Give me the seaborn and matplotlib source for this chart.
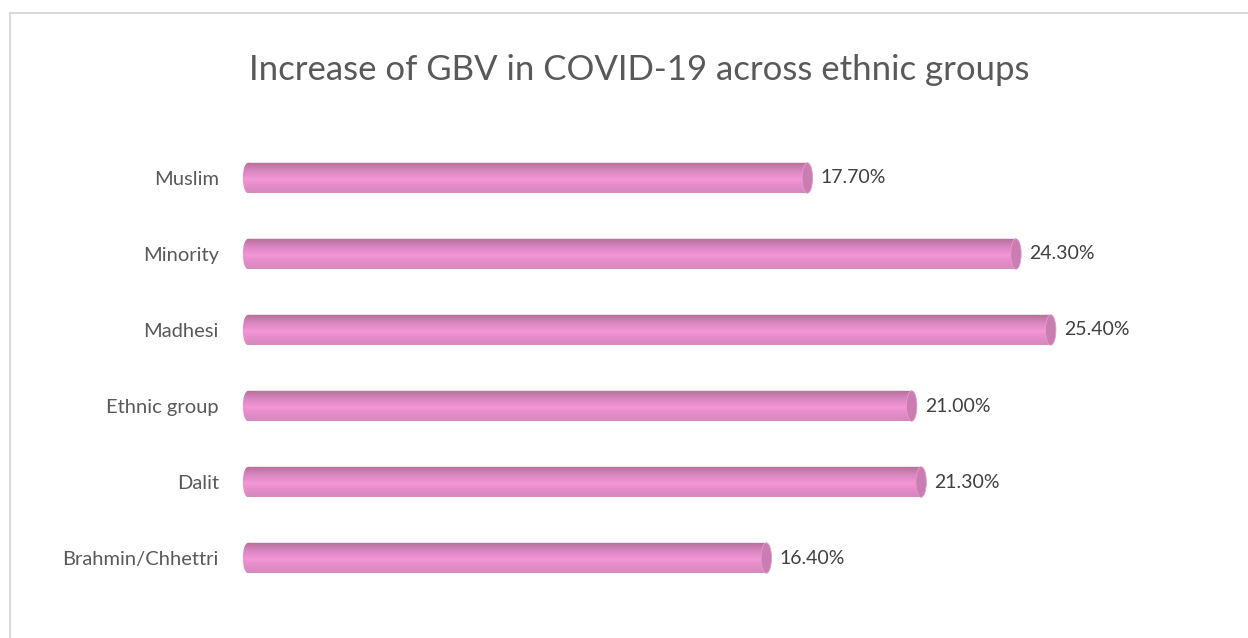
import numpy as np
import pandas as pd
import matplotlib
matplotlib.use("Agg")
import matplotlib.pyplot as plt
from matplotlib.colors import LinearSegmentedColormap
from matplotlib.patches import Ellipse
from matplotlib.path import Path
import seaborn as sns

# Data (top to bottom)
GROUPS = ["Muslim", "Minority", "Madhesi", "Ethnic group", "Dalit", "Brahmin/Chhettri"]
VALUES = [17.7, 24.3, 25.4, 21.0, 21.3, 16.4]
TITLE = "Increase of GBV in COVID-19 across ethnic groups"

sns.set_theme(style="white")
plt.rcParams["font.family"] = ["Lato", "DejaVu Sans"]

df = pd.DataFrame({"group": GROUPS, "value": VALUES})

fig = plt.figure(figsize=(12.48, 6.38), dpi=100)
# small negative x margin so the rounded back end of each bar is visible
ax = fig.add_axes([0.1937, 0.0658, 0.7647, 0.7148])

sns.barplot(data=df, y="group", x="value", order=GROUPS, orient="h",
            width=0.4, color="#F093D3", edgecolor="none", ax=ax)

# cylinder shading: vertical gradient light in the middle, darker at edges
cmap = LinearSegmentedColormap.from_list(
    "cyl", [(0.0, "#B46F98"), (0.25, "#D684BD"), (0.55, "#F396D6"),
            (0.75, "#E58CC9"), (1.0, "#D589BF")])
grad = np.linspace(0, 1, 64).reshape(-1, 1)
cap_w = 0.33  # data units for end ellipse
for patch, val in zip(ax.patches[:len(VALUES)], VALUES):
    x0, y0 = patch.get_x(), patch.get_y()
    w, h = patch.get_width(), patch.get_height()
    patch.set_facecolor("none")
    # body + rounded back end as clip path
    back = Ellipse((x0, y0 + h / 2), cap_w, h)
    back_path = back.get_patch_transform().transform_path(back.get_path())
    rect_path = Path([(x0, y0), (x0 + w, y0), (x0 + w, y0 + h), (x0, y0 + h), (x0, y0)],
                     [Path.MOVETO, Path.LINETO, Path.LINETO, Path.LINETO, Path.CLOSEPOLY])
    clip = Path.make_compound_path(rect_path, back_path)
    img = ax.imshow(grad, cmap=cmap, aspect="auto", origin="upper",
                    extent=[x0 - cap_w, x0 + w, y0 + h, y0], zorder=2,
                    interpolation="bilinear")
    img.set_clip_path(clip, ax.transData)
    cap = Ellipse((x0 + w, y0 + h / 2), cap_w, h, facecolor="#C97DB1",
                  edgecolor="#E59ACB", linewidth=0.6, zorder=3)
    ax.add_patch(cap)
    ax.text(x0 + w + cap_w / 2 + 0.25, y0 + h / 2, f"{val:.2f}%",
            va="center", ha="left", fontsize=14, color="#404040", zorder=4)

ax.set_xlim(-0.2, 30)
ax.set_ylim(len(GROUPS) - 0.5, -0.5)
ax.set_xlabel("")
ax.set_ylabel("")
ax.set_xticks([])
ax.tick_params(axis="y", length=0, pad=16.5, labelsize=14.5, labelcolor="#595959")
for s in ax.spines.values():
    s.set_visible(False)

fig.text(0.512, 0.89, TITLE, ha="center", va="center", fontsize=25, color="#595959")

# chart border (cropped on right and bottom)
fig.add_artist(plt.Line2D([10 / 1248, 1], [1 - 13 / 638, 1 - 13 / 638],
                          color="#D9D9D9", linewidth=1.5))
fig.add_artist(plt.Line2D([10 / 1248, 10 / 1248], [0, 1 - 13 / 638],
                          color="#D9D9D9", linewidth=1.5))

fig.savefig("out.png", dpi=100)
